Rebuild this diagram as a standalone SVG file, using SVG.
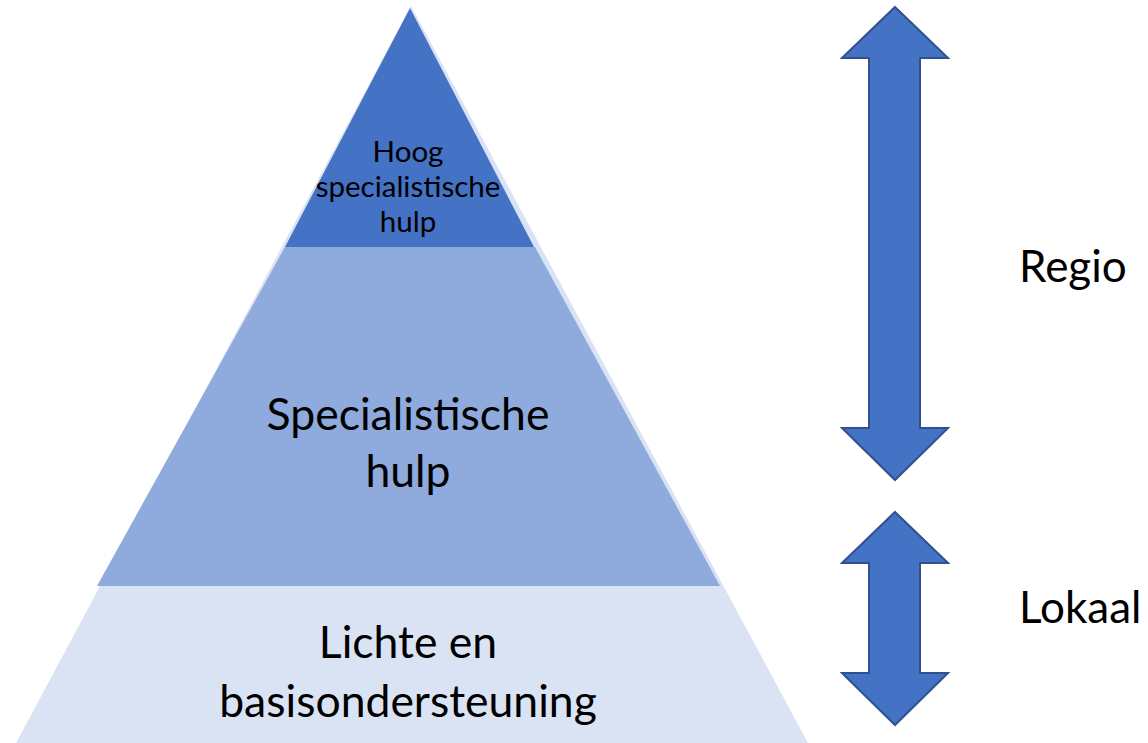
<svg xmlns="http://www.w3.org/2000/svg" width="1148" height="743" viewBox="0 0 1148 743">
<style>
.t{font-family:Lato,"Open Sans",sans-serif;fill:#000;text-anchor:middle}
.s{font-size:29.5px}
.m{font-size:44.5px}
.lbl{font-family:Lato,"Open Sans",sans-serif;font-size:44px;fill:#000}
.arrow{fill:#4472C4;stroke:#2F528F;stroke-width:2;stroke-linejoin:miter}
</style>
<rect width="1148" height="743" fill="#fff"/>
<g id="base">
<polygon points="411,6 16,743 808,743" fill="#DAE3F3"/>
<text class="t m" x="408" y="658">Lichte en</text>
<text class="t m" x="408" y="717">basisondersteuning</text>
</g>
<g id="middle">
<polygon points="285,247 535,247 720,586 97,586" fill="#8FAADC"/>
<text class="t m" x="408" y="430">Specialistische</text>
<text class="t m" x="408" y="487">hulp</text>
</g>
<g id="top">
<polygon points="410,8 534,247 285,247" fill="#4472C4"/>
<text class="t s" x="408" y="162">Hoog</text>
<text class="t s" x="408" y="197">specialistische</text>
<text class="t s" x="408" y="232">hulp</text>
</g>
<g id="connectors">
<polygon class="arrow" points="895,7 948,58 920,58 920,428 948,428 895,480 842,428 869,428 869,58 842,58"/>
<polygon class="arrow" points="895,512 948,563 920,563 920,673 948,673 895,725 842,673 869,673 869,563 842,563"/>
</g>
<g id="label-regio"><text class="lbl" x="1019" y="282">Regio</text></g>
<g id="label-lokaal"><text class="lbl" x="1019" y="623">Lokaal</text></g>
</svg>
